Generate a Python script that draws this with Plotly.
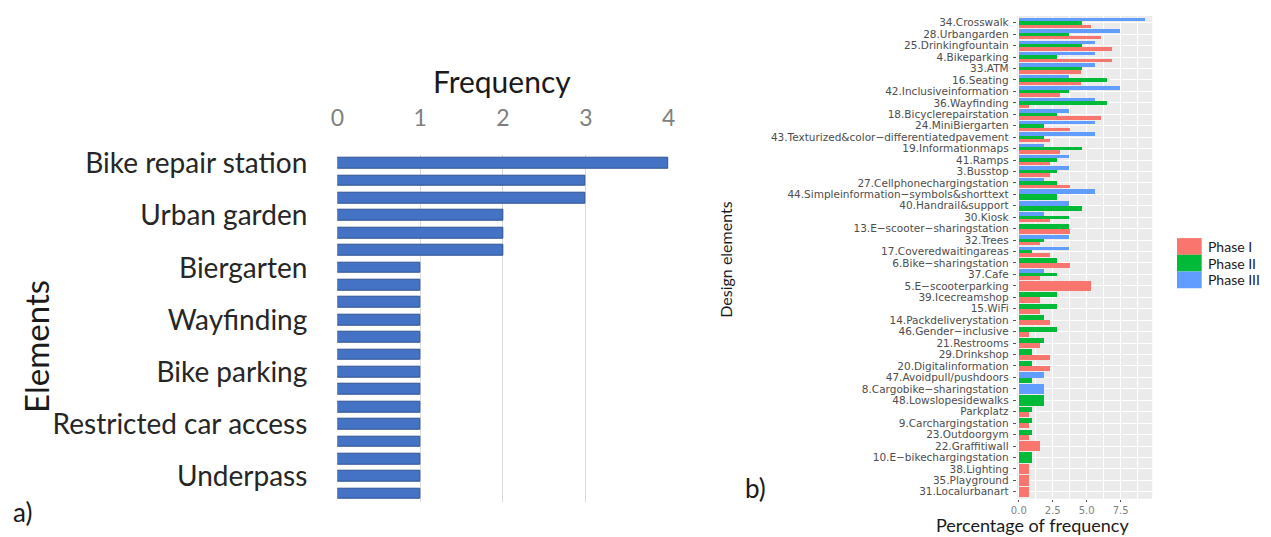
import plotly.graph_objects as go

W, H = 1271, 537

# ---------------- panel a) frequency of elements ----------------
freq_a = [4, 3, 3, 2, 2, 2, 1, 1, 1, 1, 1, 1, 1, 1, 1, 1, 1, 1, 1, 1]
labels_a = ["Bike repair station", "", "", "Urban garden", "", "", "Biergarten", "", "",
            "Wayfinding", "", "", "Bike parking", "", "", "Restricted car access", "", "",
            "Underpass", ""]
ticks_a = [0, 1, 2, 3, 4]

# ---------------- panel b) percentage of frequency by phase ----------------
cats_b = [
    "34.Crosswalk", "28.Urbangarden", "25.Drinkingfountain", "4.Bikeparking", "33.ATM",
    "16.Seating", "42.Inclusiveinformation", "36.Wayfinding", "18.Bicyclerepairstation",
    "24.MiniBiergarten", "43.Texturized&color\u2212differentiatedpavement", "19.Informationmaps",
    "41.Ramps", "3.Busstop", "27.Cellphonechargingstation",
    "44.Simpleinformation\u2212symbols&shorttext", "40.Handrail&support", "30.Kiosk",
    "13.E\u2212scooter\u2212sharingstation", "32.Trees", "17.Coveredwaitingareas",
    "6.Bike\u2212sharingstation", "37.Cafe", "5.E\u2212scooterparking", "39.Icecreamshop",
    "15.WiFi", "14.Packdeliverystation", "46.Gender\u2212inclusive", "21.Restrooms",
    "29.Drinkshop", "20.Digitalinformation", "47.Avoidpull/pushdoors",
    "8.Cargobike\u2212sharingstation", "48.Lowslopesidewalks", "Parkplatz",
    "9.Carchargingstation", "23.Outdoorgym", "22.Graffitiwall", "10.E\u2212bikechargingstation",
    "38.Lighting", "35.Playground", "31.Localurbanart",
]
phase_1 = [5.30, 6.06, 6.82, 6.82, 4.55, 4.55, 3.03, 0.76, 6.06, 3.79, 2.27, 3.03, 2.27, 2.27,
           3.79, 0.00, 0.00, 2.27, 3.79, 1.52, 2.27, 3.79, 1.52, 5.30, 1.52, 1.52, 2.27, 0.76,
           1.52, 2.27, 2.27, 0.00, 0.00, 0.00, 0.76, 0.76, 0.76, 1.52, 0.00, 0.76, 0.76, 0.76]
phase_2 = [4.63, 3.70, 4.63, 2.78, 4.63, 6.48, 3.70, 6.48, 2.78, 1.85, 1.85, 4.63, 2.78, 2.78,
           2.78, 2.78, 4.63, 3.70, 3.70, 1.85, 0.93, 2.78, 2.78, 0.00, 2.78, 2.78, 1.85, 2.78,
           1.85, 0.93, 0.93, 0.93, 0.00, 1.85, 0.93, 0.93, 0.93, 0.00, 0.93, 0.00, 0.00, 0.00]
phase_3 = [9.26, 7.41, 5.56, 5.56, 5.56, 3.70, 7.41, 5.56, 3.70, 5.56, 5.56, 1.85, 3.70, 3.70,
           1.85, 5.56, 3.70, 1.85, 0.00, 3.70, 3.70, 0.00, 1.85, 0.00, 0.00, 0.00, 0.00, 0.00,
           0.00, 0.00, 0.00, 1.85, 1.85, 0.00, 0.00, 0.00, 0.00, 0.00, 0.00, 0.00, 0.00, 0.00]
phase_names = ["Phase I", "Phase II", "Phase III"]
phase_colors = ["#F8766D", "#00BA38", "#619CFF"]
ticks_b = [0.0, 2.5, 5.0, 7.5]

fig = go.Figure()

# panel a bars
pos_a = list(range(len(freq_a)))
fig.add_trace(go.Bar(
    x=freq_a, y=pos_a, orientation="h", width=0.62, xaxis="x", yaxis="y",
    marker=dict(color="#4472C4", line=dict(color="#2F528F", width=1)),
    showlegend=False, hoverinfo="x",
))

# panel b: dodged bars, the present phases share the 0.9 slot of each category
series = [phase_1, phase_2, phase_3]
dodge = 0.9
for k, (name, vals, col) in enumerate(zip(phase_names, series, phase_colors)):
    xs, ys, offs, wids = [], [], [], []
    for c, v in enumerate(vals):
        if v <= 0:
            continue
        present = [s[c] > 0 for s in series]
        n = sum(present)
        rank = sum(present[:k])
        w = dodge / n
        xs.append(v)
        ys.append(c)
        offs.append(dodge / 2 - (rank + 1) * w)
        wids.append(w)
    fig.add_trace(go.Bar(
        x=xs, y=ys, orientation="h", offset=offs, width=wids, name=name,
        marker=dict(color=col, line=dict(width=0)), xaxis="x2", yaxis="y2",
        showlegend=False,
    ))

ya_top, ya_bot = 148.2, 501.9
yb_top, yb_bot = 7.0, 498.0

fig.update_layout(
    width=W, height=H, margin=dict(l=0, r=0, t=0, b=0),
    paper_bgcolor="white", plot_bgcolor="white",
    barmode="overlay", bargap=0,
    xaxis=dict(
        domain=[334 / W, 669 / W], range=[0, 4], side="top", anchor="y",
        tickvals=ticks_a, showgrid=True, gridcolor="#D9D9D9", gridwidth=1,
        zeroline=False, showline=False, ticks="", ticklabelstandoff=23,
        tickfont=dict(family="Lato", size=23, color="#7F7F7F"),
    ),
    yaxis=dict(
        domain=[(H - ya_bot) / H, (H - ya_top) / H], range=[len(freq_a) - 0.5, -0.5],
        anchor="x", tickvals=[i for i, t in enumerate(labels_a) if t],
        ticktext=[t for t in labels_a if t], showgrid=False, zeroline=False,
        ticks="", ticklabelstandoff=29,
        tickfont=dict(family="Lato", size=28, color="#262626"),
    ),
    xaxis2=dict(
        domain=[1021 / W, 1158 / W], range=[-0.15, 9.83], anchor="y2",
        tickvals=ticks_b, tickformat=".1f", showgrid=True, gridcolor="white", gridwidth=1.2,
        minor=dict(dtick=1.25, tick0=0, showgrid=True, gridcolor="white", gridwidth=0.6),
        zeroline=False, showline=False, ticks="outside", ticklen=2, tickcolor="#555555",
        tickfont=dict(family="DejaVu Sans", size=10, color="#7F7F7F"),
    ),
    yaxis2=dict(
        domain=[(H - yb_bot) / H, (H - yb_top) / H], range=[len(cats_b) - 0.4, -0.6],
        anchor="x2", tickvals=list(range(len(cats_b))), ticktext=cats_b,
        showgrid=True, gridcolor="white", gridwidth=1.2, zeroline=False, showline=False,
        ticks="outside", ticklen=3, tickcolor="#555555", ticklabelstandoff=2,
        tickfont=dict(family="DejaVu Sans", size=10.5, color="#4D4D4D"),
    ),
)

# grey ggplot-style panel behind the gridlines of panel b
shapes = [dict(type="rect", xref="x2 domain", yref="y2 domain", x0=0, x1=1, y0=0, y1=1,
               fillcolor="#EBEBEB", line=dict(width=0), layer="below")]

# legend keys for panel b
key_x0, key_y0, key_w, key_h = 1183, 233, 25, 17
annotations = []
for i, (name, col) in enumerate(zip(phase_names, phase_colors)):
    top = key_y0 + i * key_h
    shapes.append(dict(type="rect", xref="paper", yref="paper",
                       x0=key_x0 / W, x1=(key_x0 + key_w) / W,
                       y0=(H - top - key_h) / H, y1=(H - top) / H,
                       fillcolor=col, line=dict(width=0)))
    annotations.append(dict(text=name, xref="paper", yref="paper",
                            x=(key_x0 + key_w + 4) / W, y=(H - top - key_h / 2) / H,
                            xanchor="left", yanchor="middle", showarrow=False,
                            font=dict(family="Lato", size=14, color="#1A1A1A")))

def note(text, x, y, size, rot=0, family="Lato", color="#1A1A1A"):
    annotations.append(dict(text=text, xref="paper", yref="paper", x=x / W, y=(H - y) / H,
                            xanchor="center", yanchor="middle", showarrow=False,
                            textangle=rot, font=dict(family=family, size=size, color=color)))

note("Frequency", 501, 73, 30)
note("Elements", 30, 343, 33, rot=-90)
note("a)", 16, 512, 26)
note("b)", 757, 487, 26)
note("Design elements", 727, 255, 16, rot=-90)
note("Percentage of frequency", 1037, 525, 18)

fig.update_layout(shapes=shapes, annotations=annotations)

fig.write_html("out.html")
